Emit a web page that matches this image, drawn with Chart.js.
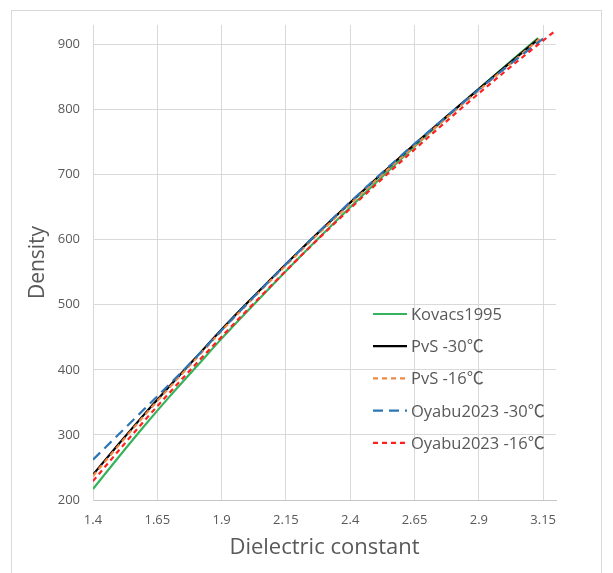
<!DOCTYPE html>
<html>
<head>
<meta charset="utf-8">
<script src="https://cdn.jsdelivr.net/npm/chart.js@4.4.1/dist/chart.umd.min.js"></script>
<style>
  html, body { margin: 0; padding: 0; background: #ffffff; overflow: hidden; }
  #wrap { position: relative; width: 613px; height: 573px; }
  #frame { position: absolute; left: 11px; top: 10px; width: 591px; height: 620px; border: 1px solid #d9d9d9; box-sizing: border-box; }
  #c { position: absolute; left: 0; top: 0; }
</style>
</head>
<body>
<div id="wrap">
  <div id="frame"></div>
  <canvas id="c" width="613" height="573"></canvas>
</div>
<script>
// ---- data ----
const seriesNames = ["Kovacs1995", "PvS -30\u2103", "PvS -16\u2103", "Oyabu2023 -30\u2103", "Oyabu2023 -16\u2103"];

const epsKovacs   = [1.4, 1.5, 1.6, 1.7, 1.8, 1.9, 2.0, 2.2, 2.4, 2.6, 2.8, 3.0, 3.13];
const densKovacs  = [217, 266, 314, 360, 404, 448, 490, 572, 650, 725, 797, 866, 910];

const epsPvS30    = [1.4, 1.5, 1.6, 1.7, 1.8, 1.9, 2.0, 2.2, 2.4, 2.6, 2.8, 3.0, 3.13];
const densPvS30   = [239, 286, 332, 376, 419, 462, 503, 582, 657, 729, 798, 865, 908];

const epsPvS16    = [1.4, 1.5, 1.6, 1.7, 1.8, 1.9, 2.0, 2.2, 2.4, 2.6, 2.8, 3.0, 3.14];
const densPvS16   = [237, 284, 330, 374, 417, 460, 501, 580, 655, 727, 796, 863, 910];

const epsOyabu30  = [1.4, 1.5, 1.6, 1.7, 1.8, 1.9, 2.0, 2.2, 2.4, 2.6, 2.8, 3.0, 3.15];
const densOyabu30 = [262, 301, 340, 379, 419, 461, 502, 582, 658, 730, 798, 863, 909];

const epsOyabu16  = [1.4, 1.5, 1.6, 1.7, 1.8, 1.9, 2.0, 2.2, 2.4, 2.6, 2.8, 3.0, 3.2];
const densOyabu16 = [229, 276, 322, 366, 409, 451, 492, 572, 648, 721, 791, 858, 922];

const xTicks = [1.4, 1.65, 1.9, 2.15, 2.4, 2.65, 2.9, 3.15];
const yTicks = [200, 300, 400, 500, 600, 700, 800, 900];

// ---- build datasets ----
function pts(xs, ys) { return xs.map((x, i) => ({ x: x, y: ys[i] })); }

const styles = [
  { color: "#35b35c", dash: [],      order: 5 },
  { color: "#000000", dash: [],      order: 4 },
  { color: "#ee8a45", dash: [5, 4],  order: 3 },
  { color: "#2e75b6", dash: [10, 6], order: 2 },
  { color: "#ff1f1f", dash: [5, 4],  order: 1 }
];
const allX = [epsKovacs, epsPvS30, epsPvS16, epsOyabu30, epsOyabu16];
const allY = [densKovacs, densPvS30, densPvS16, densOyabu30, densOyabu16];

const datasets = seriesNames.map((name, i) => ({
  label: name,
  data: pts(allX[i], allY[i]),
  borderColor: styles[i].color,
  backgroundColor: styles[i].color,
  borderDash: styles[i].dash,
  borderWidth: 2.2,
  pointRadius: 0,
  showLine: true,
  fill: false,
  tension: 0.3,
  cubicInterpolationMode: "monotone",
  order: styles[i].order
}));

const FONT = "'Open Sans', 'DejaVu Sans', sans-serif";
const CJK_FONT = "'Noto Sans CJK JP', 'Noto Sans CJK SC', sans-serif";

const legendPlugin = {
  id: "insideLegend",
  afterDraw(chart) {
    const ctx = chart.ctx;
    const x0 = 373, x1 = 407, tx = 411, y0 = 314, dy = 32.2;
    ctx.save();
    chart.data.datasets.forEach((ds, i) => {
      const y = y0 + i * dy;
      ctx.beginPath();
      ctx.setLineDash(ds.borderDash || []);
      ctx.strokeStyle = ds.borderColor;
      ctx.lineWidth = 2.2;
      ctx.moveTo(x0, y);
      ctx.lineTo(x1, y);
      ctx.stroke();
      ctx.setLineDash([]);
      ctx.fillStyle = "#595959";
      ctx.textBaseline = "alphabetic";
      ctx.textAlign = "left";
      const yb = y + 6;
      const label = ds.label;
      const k = label.indexOf("\u2103");
      const main = k >= 0 ? label.slice(0, k) : label;
      ctx.font = "16.5px " + FONT;
      ctx.fillText(main, tx, yb);
      if (k >= 0) {
        const w = ctx.measureText(main).width;
        ctx.font = "17px " + CJK_FONT;
        ctx.fillText("\u2103", tx + w, yb);
      }
    });
    ctx.restore();
  }
};

new Chart(document.getElementById("c"), {
  type: "scatter",
  data: { datasets: datasets },
  plugins: [legendPlugin],
  options: {
    responsive: false,
    animation: false,
    devicePixelRatio: 1,
    layout: { padding: { left: 0, right: 57, top: 25, bottom: 0 } },
    plugins: { legend: { display: false }, tooltip: { enabled: false } },
    scales: {
      x: {
        type: "linear",
        min: 1.4,
        max: 3.2,
        afterBuildTicks: (s) => { s.ticks = xTicks.map(v => ({ value: v })); },
        afterFit: (s) => { s.height = 73; },
        grid: { color: "#d9d9d9", drawTicks: false },
        border: { color: "#c6c6c6", width: 1 },
        ticks: {
          padding: 12,
          color: "#595959",
          font: { family: FONT, size: 13 },
          maxRotation: 0,
          autoSkip: false,
          callback: (v) => String(v)
        },
        title: {
          display: true,
          text: "Dielectric constant",
          color: "#595959",
          font: { family: FONT, size: 22 },
          padding: { top: 0, bottom: 12 }
        }
      },
      y: {
        type: "linear",
        min: 200,
        max: 930,
        afterBuildTicks: (s) => { s.ticks = yTicks.map(v => ({ value: v })); },
        afterFit: (s) => { s.width = 93; },
        grid: { color: "#d9d9d9", drawTicks: false },
        border: { color: "#d9d9d9", width: 1 },
        ticks: {
          padding: 13,
          color: "#595959",
          font: { family: FONT, size: 13 },
          callback: (v) => String(v)
        },
        title: {
          display: true,
          text: "Density",
          color: "#595959",
          font: { family: FONT, size: 21 },
          padding: { top: 25, bottom: 0 }
        }
      }
    }
  }
});
</script>
</body>
</html>
